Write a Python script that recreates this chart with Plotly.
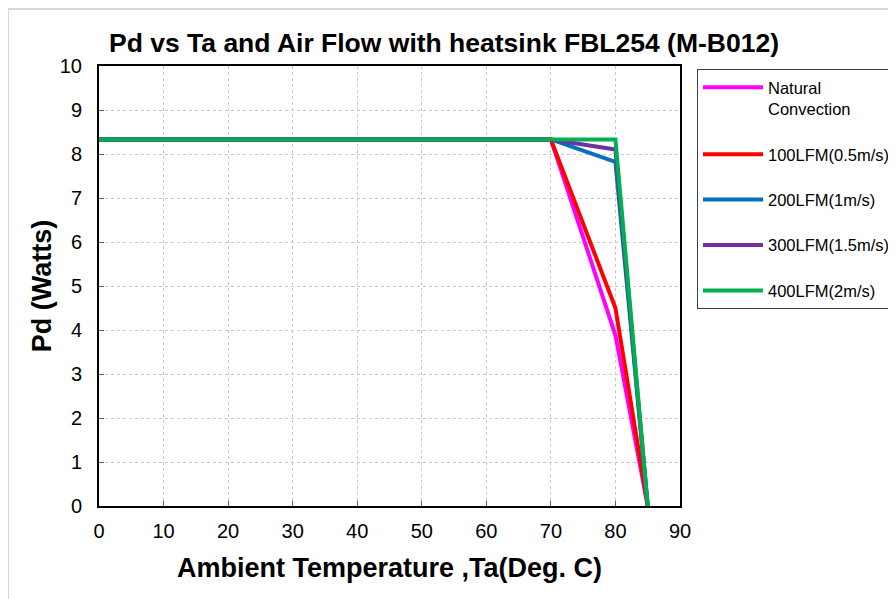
import plotly.graph_objects as go

ta = [0, 70, 80, 85]
natural = [8.33, 8.33, 3.88, 0]
lfm100 = [8.33, 8.33, 4.5, 0]
lfm200 = [8.33, 8.33, 7.82, 0]
lfm300 = [8.33, 8.33, 8.1, 0]
lfm400 = [8.33, 8.33, 8.33, 0]

names = ["Natural<br>Convection", "100LFM(0.5m/s)", "200LFM(1m/s)", "300LFM(1.5m/s)", "400LFM(2m/s)"]
series = [natural, lfm100, lfm200, lfm300, lfm400]
colors = ["#FF00FF", "#FF0000", "#0070C0", "#7030A0", "#00B050"]

fig = go.Figure()
for i, (n, s, c) in enumerate(zip(names, series, colors)):
    fig.add_trace(go.Scatter(x=ta, y=s, mode="lines", name=n, legendgroup=str(i),
                             line=dict(color=c, width=4)))

# page body has an 8px offset; work in figure coords = window - 8
OFF = 8
W, H = 896 - OFF, 599 - OFF
L, R, T, B = 99 - OFF, 680 - OFF, 66 - OFF, 506 - OFF
pw, ph = R - L, B - T

def px(p):
    return (p - OFF - L) / pw

def py(p):
    return (B - (p - OFF)) / ph

font = "Liberation Sans, Arial, sans-serif"
fig.update_layout(
    width=W, height=H,
    margin=dict(l=L, r=W - R, t=T, b=H - B, autoexpand=False),
    paper_bgcolor="white", plot_bgcolor="white",
    font=dict(family=font, color="black"),
    title=dict(text="<b>Pd vs Ta and Air Flow with heatsink FBL254 (M-B012)</b>",
               xref="container", yref="container",
               x=(444 - OFF) / W, xanchor="center", y=1 - (43 - OFF) / H, yanchor="middle",
               font=dict(size=26.5, family=font, color="black")),
    showlegend=True,
    legend=dict(xref="container", yref="container",
                x=(697 - OFF) / W, y=1 - (69 - OFF) / H, xanchor="left", yanchor="top",
                bordercolor="#404040", borderwidth=1, bgcolor="white",
                font=dict(size=16.5, family=font, color="black"),
                tracegroupgap=21, itemwidth=60, valign="top"),
    xaxis=dict(range=[0, 90], dtick=10, showgrid=True, gridcolor="#C8C8C8", griddash="dot",
               gridwidth=1, showline=True, linecolor="black", linewidth=2, mirror=True,
               ticks="inside", ticklen=5, tickcolor="#606060", ticklabelstandoff=6,
               tickfont=dict(size=20, family=font), zeroline=False,
               title=dict(text="<b>Ambient Temperature ,Ta(Deg. C)</b>",
                          font=dict(size=27, family=font), standoff=17)),
    yaxis=dict(range=[0, 10], dtick=1, showgrid=True, gridcolor="#C8C8C8", griddash="dot",
               gridwidth=1, showline=True, linecolor="black", linewidth=2, mirror=True,
               ticks="inside", ticklen=5, tickcolor="#606060", ticklabelstandoff=11,
               tickfont=dict(size=20, family=font), zeroline=False,
               title=dict(text="<b>Pd (Watts)</b>", font=dict(size=27, family=font), standoff=0)),
    shapes=[
        dict(type="line", xref="paper", yref="paper", x0=px(8), x1=px(8), y0=py(9), y1=py(650),
             line=dict(color="#D9D9D9", width=2)),
        dict(type="line", xref="paper", yref="paper", x0=px(8), x1=px(930), y0=py(9), y1=py(9),
             line=dict(color="#D9D9D9", width=2)),
    ],
)

fig.write_html("out.html")
